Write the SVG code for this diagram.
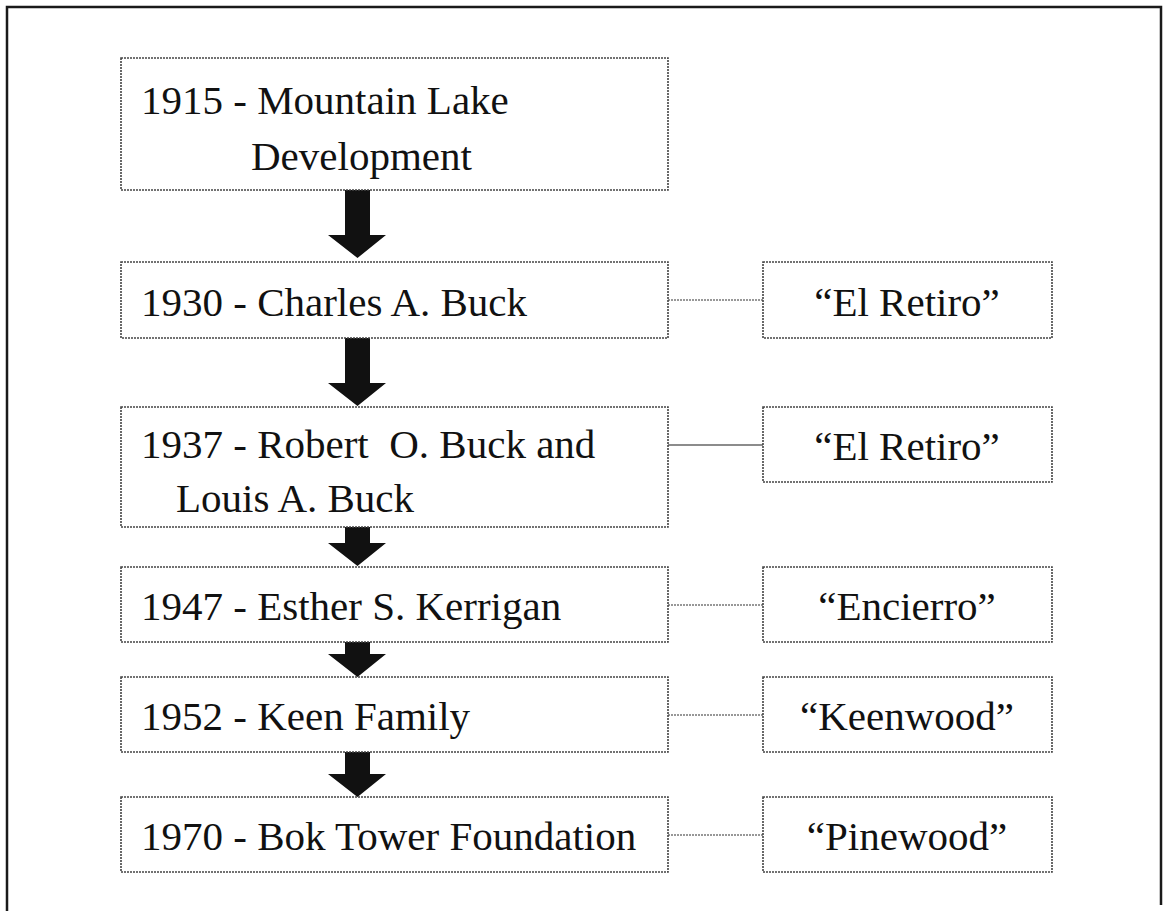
<svg xmlns="http://www.w3.org/2000/svg" width="1173" height="911" viewBox="0 0 1173 911">
<style>
.bg{fill:#ffffff}
.frame{fill:none;stroke:#1a1a1a;stroke-width:2.5}
.box{fill:#ffffff;stroke:#444;stroke-width:1.6;stroke-dasharray:2 1}
.conn{fill:none;stroke:#777;stroke-width:1.3;stroke-dasharray:2 1}
.solid{stroke-dasharray:none;stroke:#666}
.arrow{fill:#111}
text{font-family:"Liberation Serif","Times New Roman",serif;font-size:41px;fill:#111}
.c{text-anchor:middle}
</style>
<rect class="bg" x="0" y="0" width="1173" height="911"/>
<path class="frame" d="M7,911 V7 H1161 V905"/>
<g id="connectors">
<line class="conn" x1="668" y1="300" x2="763" y2="300"/>
<line class="conn solid" x1="668" y1="445" x2="763" y2="445"/>
<line class="conn" x1="668" y1="605" x2="763" y2="605"/>
<line class="conn" x1="668" y1="715" x2="763" y2="715"/>
<line class="conn" x1="668" y1="835" x2="763" y2="835"/>
<path class="arrow" d="M345,190 H370 V235 H386 L357.5,258 L328,235 H345 Z"/>
<path class="arrow" d="M345,338 H370 V383 H386 L357.5,406 L328,383 H345 Z"/>
<path class="arrow" d="M345,527 H370 V543 H386 L357.5,566 L328,543 H345 Z"/>
<path class="arrow" d="M345,642 H370 V654 H386 L357.5,677 L328,654 H345 Z"/>
<path class="arrow" d="M345,752 H370 V774 H386 L357.5,797 L328,774 H345 Z"/>
</g>
<g id="n1915">
<rect class="box" x="121" y="58" width="547" height="132"/>
<text x="141" y="114">1915 - Mountain Lake</text>
<text x="251" y="170">Development</text>
</g>
<g id="n1930">
<rect class="box" x="121" y="262" width="547" height="76"/>
<text x="141" y="316">1930 - Charles A. Buck</text>
</g>
<g id="r1930">
<rect class="box" x="763" y="262" width="289" height="76"/>
<text class="c" x="907" y="316">“El Retiro”</text>
</g>
<g id="n1937">
<rect class="box" x="121" y="407" width="547" height="120"/>
<text x="141" y="458" xml:space="preserve">1937 - Robert  O. Buck and</text>
<text x="176" y="512">Louis A. Buck</text>
</g>
<g id="r1937">
<rect class="box" x="763" y="407" width="289" height="75"/>
<text class="c" x="907" y="460">“El Retiro”</text>
</g>
<g id="n1947">
<rect class="box" x="121" y="567" width="547" height="75"/>
<text x="141" y="620">1947 - Esther S. Kerrigan</text>
</g>
<g id="r1947">
<rect class="box" x="763" y="567" width="289" height="75"/>
<text class="c" x="907" y="620">“Encierro”</text>
</g>
<g id="n1952">
<rect class="box" x="121" y="677" width="547" height="75"/>
<text x="141" y="730">1952 - Keen Family</text>
</g>
<g id="r1952">
<rect class="box" x="763" y="677" width="289" height="75"/>
<text class="c" x="907" y="730">“Keenwood”</text>
</g>
<g id="n1970">
<rect class="box" x="121" y="797" width="547" height="75"/>
<text x="141" y="850">1970 - Bok Tower Foundation</text>
</g>
<g id="r1970">
<rect class="box" x="763" y="797" width="289" height="75"/>
<text class="c" x="907" y="850">“Pinewood”</text>
</g>
</svg>
